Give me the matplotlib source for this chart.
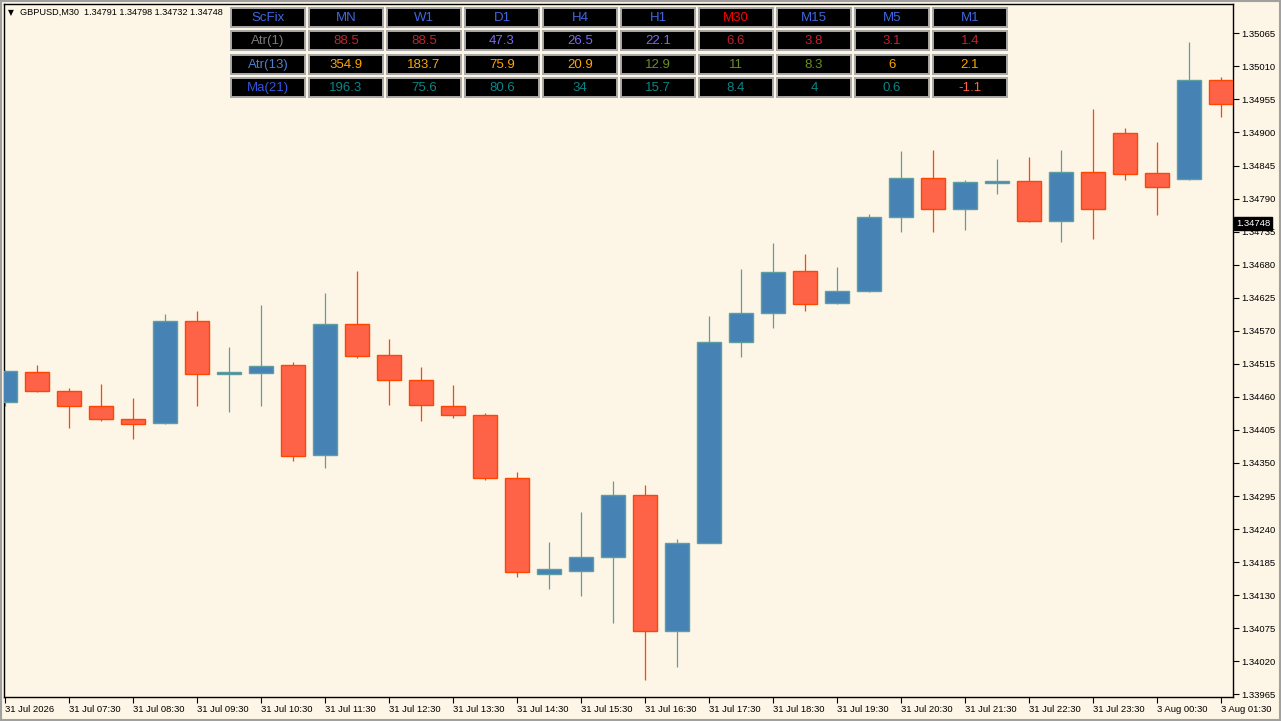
import numpy as np
import matplotlib
matplotlib.use("Agg")
import matplotlib.pyplot as plt
from matplotlib.patches import Rectangle

W, H = 1281, 721
BG = '#FDF5E6'
BULL, BULL_EDGE = '#4682B4', '#5F9EA0'
BEAR, BEAR_EDGE = '#FF6347', '#FF4500'
FONT = ['Liberation Sans', 'DejaVu Sans']

# GBPUSD M30 candles, 31 Jul 06:30 -> 3 Aug 01:30
opens = [1.34451, 1.34501, 1.34469, 1.34444, 1.34423, 1.34416, 1.34587, 1.34498,
         1.34499, 1.34513, 1.34363, 1.34581, 1.34529, 1.34488, 1.34444, 1.34429,
         1.34325, 1.34166, 1.34171, 1.34193, 1.34296, 1.34070, 1.34217, 1.34551,
         1.34599, 1.34669, 1.34616, 1.34636, 1.34759, 1.34825, 1.34772, 1.34816,
         1.34819, 1.34752, 1.34835, 1.34899, 1.34832, 1.34823, 1.34987]
highs = [1.34504, 1.34513, 1.34475, 1.34481, 1.34458, 1.34598, 1.34603, 1.34543,
         1.34613, 1.34518, 1.34633, 1.34670, 1.34556, 1.34510, 1.34480, 1.34433,
         1.34335, 1.34219, 1.34268, 1.34320, 1.34313, 1.34224, 1.34595, 1.34673,
         1.34716, 1.34698, 1.34676, 1.34765, 1.34869, 1.34871, 1.34821, 1.34856,
         1.34859, 1.34871, 1.34939, 1.34907, 1.34884, 1.35051, 1.34992]
lows = [1.34444, 1.34468, 1.34409, 1.34419, 1.34390, 1.34415, 1.34444, 1.34435,
        1.34445, 1.34354, 1.34341, 1.34524, 1.34447, 1.34419, 1.34425, 1.34322,
        1.34161, 1.34141, 1.34128, 1.34083, 1.33988, 1.34011, 1.34216, 1.34526,
        1.34575, 1.34603, 1.34614, 1.34634, 1.34735, 1.34735, 1.34738, 1.34798,
        1.34751, 1.34717, 1.34723, 1.34821, 1.34763, 1.34821, 1.34926]
closes = [1.34503, 1.34469, 1.34444, 1.34423, 1.34414, 1.34587, 1.34498, 1.34501,
          1.34511, 1.34361, 1.34582, 1.34528, 1.34488, 1.34446, 1.34429, 1.34325,
          1.34168, 1.34173, 1.34193, 1.34296, 1.34070, 1.34217, 1.34552, 1.34599,
          1.34667, 1.34614, 1.34636, 1.34760, 1.34825, 1.34772, 1.34817, 1.34819,
          1.34752, 1.34834, 1.34772, 1.34831, 1.34809, 1.34987, 1.34947]

time_labels = ['31 Jul 2026', '31 Jul 07:30', '31 Jul 08:30', '31 Jul 09:30',
               '31 Jul 10:30', '31 Jul 11:30', '31 Jul 12:30', '31 Jul 13:30',
               '31 Jul 14:30', '31 Jul 15:30', '31 Jul 16:30', '31 Jul 17:30',
               '31 Jul 18:30', '31 Jul 19:30', '31 Jul 20:30', '31 Jul 21:30',
               '31 Jul 22:30', '31 Jul 23:30', '3 Aug 00:30', '3 Aug 01:30']

symbol = 'GBPUSD,M30'
last_ohlc = [1.34791, 1.34798, 1.34732, 1.34748]

# indicator panel
timeframes = ['MN', 'W1', 'D1', 'H4', 'H1', 'M30', 'M15', 'M5', 'M1']
row_names = ['Atr(1)', 'Atr(13)', 'Ma(21)']
atr1 = ['88.5', '88.5', '47.3', '26.5', '22.1', '6.6', '3.8', '3.1', '1.4']
atr13 = ['354.9', '183.7', '75.9', '20.9', '12.9', '11', '8.3', '6', '2.1']
ma21 = ['196.3', '75.6', '80.6', '34', '15.7', '8.4', '4', '0.6', '-1.1']

# text colours of the panel (style only)
RED, SLATE, ORANGE, OLIVE, TEAL = '#C0222E', '#7B68EE', '#FFA500', '#6B8E23', '#0A8585'
head_colors = ['#3F67E0'] * 5 + ['#FF0000'] + ['#3F67E0'] * 3
row_colors = [
    [RED, RED, SLATE, SLATE, SLATE, RED, RED, RED, RED],
    [ORANGE] * 4 + [OLIVE] * 3 + [ORANGE] * 2,
    [TEAL] * 8 + ['#FF6347'],
]
name_colors = ['#7A7A7A', '#4A7FCF', '#3355E0']

fig = plt.figure(figsize=(W / 100, H / 100), dpi=100, facecolor=BG)
ax = fig.add_axes([4 / W, (H - 697) / H, (1233 - 4) / W, (697 - 4) / H])
ax.set_facecolor(BG)

x = np.arange(len(opens))
o, h, l, c = map(np.array, (opens, highs, lows, closes))
bull = c >= o
body_col = np.where(bull, BULL, BEAR)
edge_col = np.where(bull, BULL_EDGE, BEAR_EDGE)

ax.vlines(x, l, h, colors=edge_col, linewidth=0.9, zorder=2)
ax.bar(x, np.abs(c - o), bottom=np.minimum(o, c), width=0.72,
       color=body_col, edgecolor=edge_col, linewidth=1.0, zorder=3)

ax.set_xlim(-1 / 32, 1228 / 32)
ax.set_ylim(1.339605, 1.351138)

y_ticks = np.round(1.35065 - 0.00055 * np.arange(21), 5)
ax.yaxis.tick_right()
ax.set_yticks(y_ticks)
ax.set_yticklabels([f'{v:.5f}' for v in y_ticks])
ax.set_xticks(x[::2])
ax.set_xticklabels(time_labels)
for lbl in ax.get_xticklabels():
    lbl.set_horizontalalignment('left')
ax.tick_params(axis='both', direction='out', length=4, width=0.8, color='black',
               labelsize=6.8, pad=2)
for lbl in ax.get_xticklabels() + ax.get_yticklabels():
    lbl.set_fontfamily(FONT)
for s in ax.spines.values():
    s.set_color('black')
    s.set_linewidth(1.0)

# current price tag
ax.text(1.0025, last_ohlc[3], f'{last_ohlc[3]:.5f}', transform=ax.get_yaxis_transform(),
        ha='left', va='center', fontsize=6.8, family=FONT, color='white', zorder=10,
        clip_on=False, bbox=dict(boxstyle='square,pad=0.2', fc='black', ec='black'))

# overlay in pixel coordinates
ov = fig.add_axes([0, 0, 1, 1])
ov.set_xlim(0, W)
ov.set_ylim(H, 0)
ov.axis('off')
ov.patch.set_visible(False)

ov.text(8, 12.5, '\u25bc', fontsize=5.5, family='DejaVu Sans', va='center', ha='left')
ov.text(20, 12.5, symbol + '  ' + ' '.join(f'{v:.5f}' for v in last_ohlc),
        fontsize=6.6, family=FONT, va='center', ha='left', color='black')

cols = ['ScFix'] + timeframes
rows = [cols] + [[n] + vals for n, vals in zip(row_names, [atr1, atr13, ma21])]
colors = [['#3F67E0'] + head_colors] + [[nc] + rc for nc, rc in zip(name_colors, row_colors)]
for i, row in enumerate(rows):
    y0 = 8 + 23.3 * i
    for j, txt in enumerate(row):
        x0 = 231 + 78 * j
        ov.add_patch(Rectangle((x0, y0), 74, 19, facecolor='black',
                               edgecolor='#a8a8a8', linewidth=1.4))
        ov.text(x0 + 37, y0 + 10, txt, color=colors[i][j], fontsize=9.5,
                family=FONT, ha='center', va='center')

# window frame
ov.add_patch(Rectangle((0.5, 0.5), W - 2, H - 2, fill=False, edgecolor='#a0a0a0',
                       linewidth=1.5))

fig.savefig('out.png', dpi=100, facecolor=BG)
